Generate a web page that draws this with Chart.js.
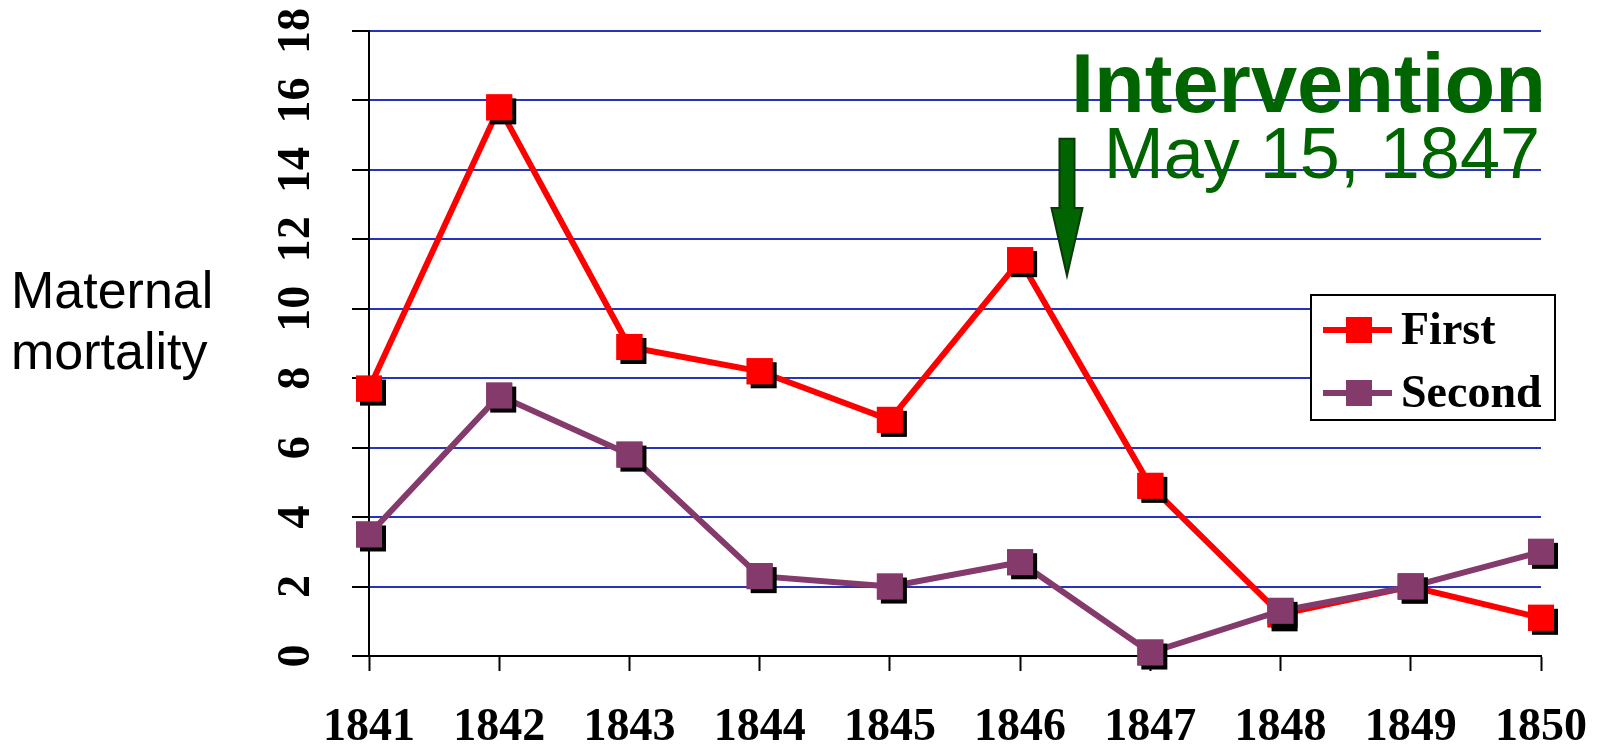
<!DOCTYPE html>
<html>
<head>
<meta charset="utf-8">
<title>Maternal mortality 1841-1850</title>
<script src="https://cdn.jsdelivr.net/npm/chart.js@4.4.0/dist/chart.umd.min.js"></script>
<style>
  html, body { margin: 0; padding: 0; background: #fff; }
  #wrap { width: 1600px; height: 747px; position: relative; }
</style>
</head>
<body>
<div id="wrap"><canvas id="myChart" width="1600" height="747"></canvas></div>
<script>
// data
const years = ['1841', '1842', '1843', '1844', '1845', '1846', '1847', '1848', '1849', '1850']
const firstClinic = [7.7, 15.8, 8.9, 8.2, 6.8, 11.4, 4.9, 1.2, 2.0, 1.1]
const secondClinic = [3.5, 7.5, 5.8, 2.3, 2.0, 2.7, 0.1, 1.3, 2.0, 3.0]
const seriesNames = ['First', 'Second']
const yTicks = [0, 2, 4, 6, 8, 10, 12, 14, 16, 18]

const RED = '#ff0000'
const PLUM = '#843a6b'
const GREEN = '#006400'
const GRID = '#2633bd'

const serif = "'Liberation Serif', 'Times New Roman', serif"
const sans = "'Liberation Sans', Arial, sans-serif"

// arrow: category index and value range (where it points)
const arrowAt = 5.36
const arrowTop = 14.9
const arrowHead = 12.9
const arrowTip = 10.95

// square markers get a small black drop shadow
const shadowPlugin = {
  id: 'shadow',
  afterDatasetDraw(chart, args) {
    const ctx = chart.ctx
    const meta = args.meta
    ctx.save()
    meta.data.forEach((pt) => {
      const side = pt.options.radius * Math.SQRT1_2 * 2
      ctx.fillStyle = '#000'
      ctx.fillRect(pt.x - side / 2 + 4, pt.y - side / 2 + 4, side, side)
    })
    ctx.restore()
    meta.data.forEach((pt) => pt.draw(ctx, chart.chartArea))
  }
}

const extrasPlugin = {
  id: 'extras',
  afterDraw(chart) {
    const ctx = chart.ctx
    const xs = chart.scales.x
    const ys = chart.scales.y
    const area = chart.chartArea
    ctx.save()

    // y title, horizontal, two lines
    ctx.fillStyle = '#000'
    ctx.font = '52px ' + sans
    ctx.textAlign = 'left'
    ctx.textBaseline = 'alphabetic'
    ctx.fillText('Maternal', 11, 308)
    ctx.fillText('mortality', 11, 369)

    // intervention note
    ctx.fillStyle = GREEN
    ctx.textAlign = 'right'
    ctx.font = 'bold 83px ' + sans
    ctx.fillText('Intervention', area.right + 5, ys.getPixelForValue(15.67))
    ctx.font = '72px ' + sans
    ctx.fillText('May 15, 1847', area.right - 1, ys.getPixelForValue(13.77))

    // arrow
    const ax = xs.getPixelForValue(arrowAt)
    const y0 = ys.getPixelForValue(arrowTop)
    const y1 = ys.getPixelForValue(arrowHead)
    const y2 = ys.getPixelForValue(arrowTip)
    ctx.beginPath()
    ctx.moveTo(ax - 7.5, y0)
    ctx.lineTo(ax + 7.5, y0)
    ctx.lineTo(ax + 7.5, y1)
    ctx.lineTo(ax + 15.5, y1)
    ctx.lineTo(ax, y2)
    ctx.lineTo(ax - 15.5, y1)
    ctx.lineTo(ax - 7.5, y1)
    ctx.closePath()
    ctx.fillStyle = GREEN
    ctx.fill()
    ctx.lineWidth = 2
    ctx.strokeStyle = '#0a3a0a'
    ctx.stroke()

    // legend box
    const lx = 1311, ly = 295, lw = 244, lh = 125
    ctx.fillStyle = '#fff'
    ctx.fillRect(lx, ly, lw, lh)
    ctx.lineWidth = 2
    ctx.strokeStyle = '#000'
    ctx.strokeRect(lx, ly, lw, lh)
    const rows = [[seriesNames[0], RED, ly + 35], [seriesNames[1], PLUM, ly + 98]]
    rows.forEach(([name, col, cy]) => {
      ctx.strokeStyle = col
      ctx.lineWidth = 6
      ctx.beginPath()
      ctx.moveTo(lx + 12, cy)
      ctx.lineTo(lx + 81, cy)
      ctx.stroke()
      ctx.fillStyle = col
      ctx.fillRect(lx + 35, cy - 13, 26, 26)
      ctx.fillStyle = '#000'
      ctx.font = 'bold 46px ' + serif
      ctx.textAlign = 'left'
      ctx.textBaseline = 'middle'
      ctx.fillText(name, lx + 90, cy + 2)
    })
    ctx.restore()
  }
}

const ctx = document.getElementById('myChart')

new Chart(ctx, {
  type: 'line',
  data: {
    labels: years,
    datasets: [{
      label: seriesNames[0],
      data: firstClinic,
      borderColor: RED,
      backgroundColor: RED,
      borderWidth: 6,
      pointStyle: 'rect',
      pointRadius: 18.4,
      pointBorderWidth: 0,
      tension: 0,
      clip: false,
      order: 2
    }, {
      label: seriesNames[1],
      data: secondClinic,
      borderColor: PLUM,
      backgroundColor: PLUM,
      borderWidth: 6,
      pointStyle: 'rect',
      pointRadius: 18.4,
      pointBorderWidth: 0,
      tension: 0,
      clip: false,
      order: 1
    }]
  },
  options: {
    responsive: false,
    animation: false,
    events: [],
    layout: { padding: { left: 0, right: 59, top: 31, bottom: 0 } },
    plugins: {
      legend: { display: false },
      tooltip: { enabled: false }
    },
    scales: {
      x: {
        offset: false,
        afterFit: (s) => {
          s.height = 91
          s.paddingLeft = 0
          s.paddingRight = 0
        },
        border: { color: '#000', width: 2 },
        grid: {
          drawOnChartArea: false,
          drawTicks: true,
          tickLength: 15,
          tickColor: '#000',
          tickWidth: 2
        },
        ticks: {
          color: '#000',
          font: { family: serif, size: 46, weight: 'bold' },
          padding: 30,
          maxRotation: 0,
          autoSkip: false
        }
      },
      y: {
        min: 0,
        max: 18,
        afterFit: (s) => {
          s.width = 369
          s.paddingTop = 0
          s.paddingBottom = 0
        },
        afterBuildTicks: (s) => { s.ticks = yTicks.map((v) => ({ value: v })) },
        border: { color: '#000', width: 2 },
        grid: {
          color: (c) => c.tick && c.tick.value === 0 ? '#000' : GRID,
          lineWidth: 2,
          tickLength: 17,
          tickColor: '#000',
          tickWidth: 2
        },
        ticks: {
          color: '#000',
          font: { family: serif, size: 46, weight: 'bold' },
          minRotation: 90,
          maxRotation: 90,
          crossAlign: 'center',
          padding: 32
        }
      }
    }
  },
  plugins: [shadowPlugin, extrasPlugin]
})
</script>
</body>
</html>
